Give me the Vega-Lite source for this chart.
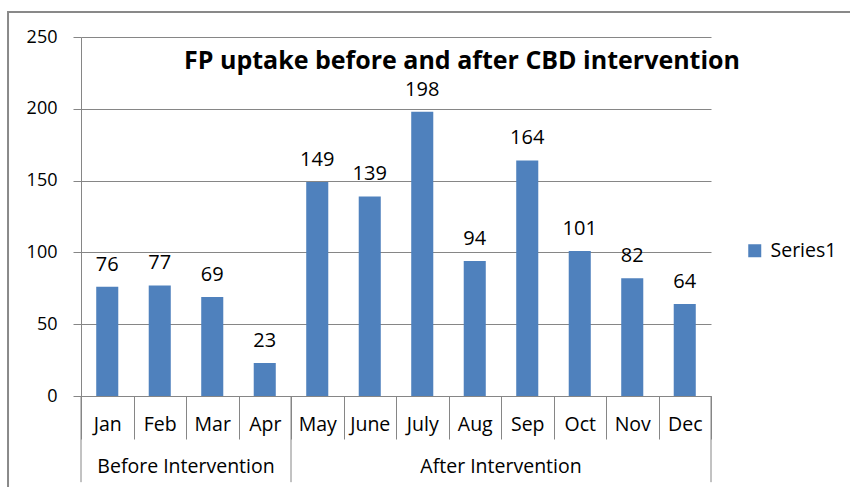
{
  "$schema": "https://vega.github.io/schema/vega-lite/v6.json",
  "width": 630,
  "height": 359,
  "padding": {"left": 7, "top": 11, "right": 0, "bottom": 0},
  "background": "white",
  "config": {
    "view": {"stroke": null},
    "font": "Open Sans",
    "axis": {"labelFont": "Open Sans", "labelColor": "#000000"}
  },
  "title": {
    "text": "FP uptake before and after CBD intervention",
    "font": "Open Sans",
    "fontSize": 25,
    "fontWeight": "bold",
    "color": "#000000",
    "anchor": "middle",
    "dx": 66,
    "offset": -63
  },
  "datasets": {
    "months": [
      {"month": "Jan", "value": 76, "group": "Before Intervention"},
      {"month": "Feb", "value": 77, "group": "Before Intervention"},
      {"month": "Mar", "value": 69, "group": "Before Intervention"},
      {"month": "Apr", "value": 23, "group": "Before Intervention"},
      {"month": "May", "value": 149, "group": "After Intervention"},
      {"month": "June", "value": 139, "group": "After Intervention"},
      {"month": "July", "value": 198, "group": "After Intervention"},
      {"month": "Aug", "value": 94, "group": "After Intervention"},
      {"month": "Sep", "value": 164, "group": "After Intervention"},
      {"month": "Oct", "value": 101, "group": "After Intervention"},
      {"month": "Nov", "value": 82, "group": "After Intervention"},
      {"month": "Dec", "value": 64, "group": "After Intervention"}
    ],
    "groupStarts": [{"month": "Jan"}, {"month": "May"}],
    "groupEnds": [{"month": "Dec"}],
    "groupLabels": [
      {"month": "Feb", "label": "Before Intervention"},
      {"month": "Aug", "label": "After Intervention"}
    ],
    "frame": [{"x0": -1.39, "x1": 15, "y0": 267.4, "y1": -75}]
  },
  "layer": [
    {
      "layer": [
        {
          "data": {"name": "months"},
          "mark": {"type": "bar", "width": {"band": 0.42}},
          "encoding": {
            "x": {
              "field": "month",
              "type": "nominal",
              "sort": null,
              "scale": {"paddingInner": 0, "paddingOuter": 0},
              "axis": {
                "title": null,
                "labelAngle": 0,
                "labelFontSize": 19.5,
                "labelBaseline": "middle",
                "labelPadding": -15,
                "tickBand": "extent",
                "tickSize": 43,
                "tickColor": "#868686",
                "domainColor": "#868686",
                "labelColor": "#000000"
              }
            },
            "y": {
              "field": "value",
              "type": "quantitative",
              "scale": {"domain": [0, 250], "nice": false},
              "axis": {
                "title": null,
                "values": [0, 50, 100, 150, 200, 250],
                "labelFontSize": 18,
                "labelPadding": 16,
                "tickSize": 8,
                "tickColor": "#868686",
                "domainColor": "#868686",
                "gridColor": "#868686",
                "gridOpacity": 1,
                "labelColor": "#000000"
              }
            },
            "color": {
              "datum": "Series1",
              "scale": {"range": ["#4F81BD"]},
              "legend": {
                "title": null,
                "orient": "none",
                "legendX": 664,
                "legendY": 204,
                "symbolType": "square",
                "symbolSize": 169,
                "symbolStrokeWidth": 0,
                "labelFontSize": 19.5,
                "labelFont": "Open Sans",
                "labelColor": "#000000",
                "labelOffset": 6
              }
            }
          }
        },
        {
          "data": {"name": "months"},
          "mark": {"type": "text", "baseline": "bottom", "dy": -12, "fontSize": 20, "font": "Open Sans", "color": "#000000"},
          "encoding": {
            "x": {"field": "month", "type": "nominal", "sort": null},
            "y": {"field": "value", "type": "quantitative"},
            "text": {"field": "value", "type": "quantitative"}
          }
        },
        {
          "data": {"name": "groupStarts"},
          "mark": {"type": "rule", "color": "#868686"},
          "encoding": {
            "x": {"field": "month", "type": "nominal", "sort": null, "bandPosition": 0},
            "y": {"datum": 0},
            "y2": {"datum": -60}
          }
        },
        {
          "data": {"name": "groupEnds"},
          "mark": {"type": "rule", "color": "#868686"},
          "encoding": {
            "x": {"field": "month", "type": "nominal", "sort": null, "bandPosition": 1},
            "y": {"datum": 0},
            "y2": {"datum": -60}
          }
        },
        {
          "data": {"name": "groupLabels"},
          "mark": {"type": "text", "baseline": "middle", "fontSize": 19.5, "font": "Open Sans", "color": "#000000"},
          "encoding": {
            "x": {"field": "month", "type": "nominal", "sort": null, "bandPosition": 1},
            "y": {"datum": -49.6},
            "text": {"field": "label", "type": "nominal"}
          }
        }
      ]
    },
    {
      "data": {"name": "frame"},
      "mark": {"type": "rect", "fill": null, "stroke": "#898989", "strokeWidth": 2},
      "encoding": {
        "x": {"field": "x0", "type": "quantitative", "scale": {"domain": [0, 12], "nice": false, "zero": false}, "axis": null},
        "x2": {"field": "x1"},
        "y": {"field": "y0", "type": "quantitative"},
        "y2": {"field": "y1"}
      }
    }
  ],
  "resolve": {"scale": {"x": "independent"}}
}
